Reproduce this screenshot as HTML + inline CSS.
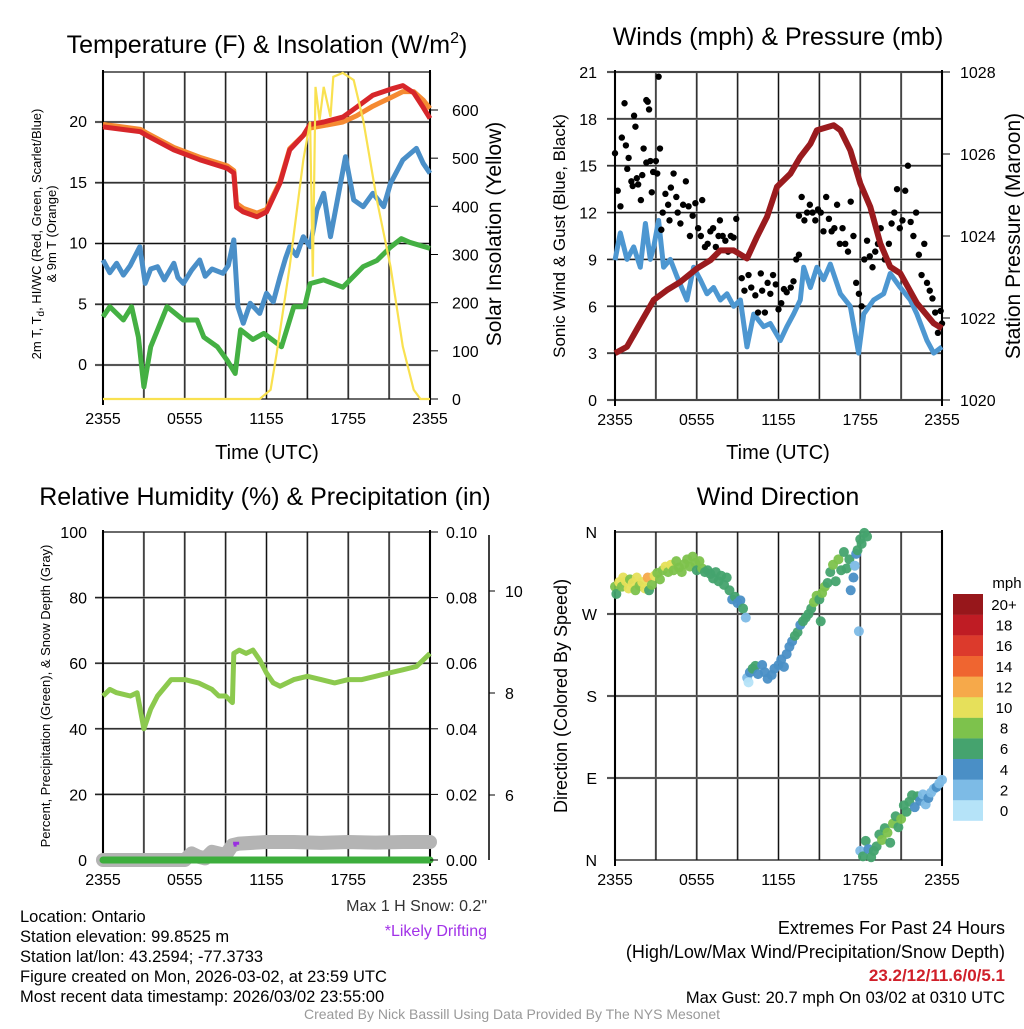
<!DOCTYPE html>
<html><head><meta charset="utf-8"><style>
html,body{margin:0;padding:0;background:#fff;}
svg text{font-family:"Liberation Sans",Arial,sans-serif;}
</style></head><body>
<svg id="chart" width="1024" height="1024" viewBox="0 0 1024 1024" xmlns="http://www.w3.org/2000/svg">
<rect width="1024" height="1024" fill="#fff"/>
</svg>
<script>
// ---------- DATA ----------
const xTickLabels = ["2355","0555","1155","1755","2355"];
// Panel 1
const tempT   = [0,2.74,3.2,5.2,7.1,9.1,9.6,9.8,10.3,11.3,12.0,13.0,13.7,14.7,15.2,16.2,17.6,18.6,19.8,21.1,22.0,22.8,23.5,24];
const tempRed = [19.6,19.2,18.9,17.7,16.9,16.2,15.8,13.0,12.6,12.2,12.6,15.0,17.7,18.9,19.8,20.0,20.4,21.2,22.2,22.7,23.0,22.4,21.2,20.3];
const tempOrange = [19.8,19.4,19.1,17.9,17.1,16.4,16.0,13.3,12.9,12.5,12.8,15.1,17.8,18.9,19.5,19.7,20.0,20.5,21.3,22.0,22.5,22.5,21.8,21.1];
const wcT   = [0,0.5,1.0,1.5,2.0,2.7,3.1,3.5,4.0,4.5,5.2,5.5,5.9,6.5,7.1,7.5,8.0,8.8,9.2,9.6,9.9,10.3,10.8,11.5,12.0,12.5,13.0,13.4,13.7,14.2,14.7,15.2,15.7,16.2,16.7,17.2,17.8,18.4,19.1,19.8,20.6,21.1,22.0,23.0,23.5,24];
const wcBlue = [8.64,7.6,8.37,7.4,8.2,9.74,6.72,7.9,8.09,7.0,8.37,7.2,6.72,7.8,8.64,7.3,7.9,7.55,8.2,10.3,4.8,3.43,5.08,4.25,5.9,5.2,7.27,8.8,9.74,9.0,10.56,9.74,12.76,14.13,10.56,13.58,17.14,13.58,13.03,14.13,13.03,14.95,16.87,17.83,16.6,15.78];
const tdT = [0,0.5,1.5,2.1,2.6,3.0,3.5,4.7,5.9,6.9,7.4,8.4,9.1,9.7,10.1,11.0,11.8,13.1,14.0,14.8,15.2,16.2,17.6,19.1,20.1,21.1,21.9,22.5,24];
const tdGreen = [3.97,4.8,3.7,4.8,2.3,-1.8,1.5,4.8,3.7,3.7,2.3,1.5,0.4,-0.7,2.9,2.1,2.6,1.5,4.8,4.8,6.7,7.0,6.4,8.1,8.6,9.7,10.4,10.1,9.6];
const solT = [0,11.5,12.3,12.75,13.7,14.7,15.2,15.4,15.6,15.9,16.2,16.7,16.9,17.6,18.4,19.1,20.1,21.1,22.0,22.8,23.3,24];
const solW = [0,0,19,95,275,496,576,254,648,579,648,586,669,677,662,579,413,275,109,19,0,0];
const p1LeftTicks = [0,5,10,15,20];
const p1RightTicks = [0,100,200,300,400,500,600];
// Panel 2
const presT = [0,0.88,1.86,2.84,3.82,4.79,6.02,7.0,7.73,8.71,9.69,10.42,11.16,11.89,12.87,13.6,14.34,14.82,16.05,16.54,17.27,18.0,18.74,19.47,20.2,20.94,22.16,23.39,24];
const presMb = [1021.14,1021.30,1021.87,1022.44,1022.68,1022.88,1023.21,1023.41,1023.65,1023.65,1023.45,1023.98,1024.47,1025.20,1025.52,1025.93,1026.25,1026.58,1026.70,1026.58,1026.09,1025.28,1024.71,1023.82,1023.25,1023.09,1022.36,1021.87,1021.75];
const windT = [0,0.39,0.88,1.37,1.86,2.23,2.59,2.84,3.2,3.57,4.06,4.55,5.28,5.77,6.26,6.75,7.24,7.73,8.22,8.71,9.2,9.69,10.18,10.91,11.4,12.13,12.62,13.11,13.6,13.85,14.34,14.82,15.31,15.8,16.54,17.27,17.88,18.25,18.98,19.72,20.2,20.94,21.67,22.16,22.9,23.39,24];
const windMph = [8.95,10.7,9,9.8,8.5,11.3,9,9.8,11.5,8.5,9,7.9,6.4,8.5,7.7,6.8,7.2,6.4,6.8,6,6.4,3.4,5.5,4.7,4.9,3.8,4.7,5.5,6.4,8.5,7.2,8.5,7.7,8.7,6.8,6,3,5.5,6.4,6.8,8.1,7.2,6.4,5.5,3.8,3,3.4];
const gustT = [0,0.2,0.4,0.5,0.7,0.8,0.9,1.0,1.2,1.3,1.4,1.5,1.6,1.7,1.9,2.0,2.1,2.3,2.3,2.4,2.5,2.6,2.7,2.8,3.0,3.1,3.2,3.3,3.4,3.5,3.7,3.9,4.0,4.1,4.3,4.5,4.6,4.8,5.0,5.2,5.4,5.5,5.7,5.9,6.1,6.3,6.4,6.6,6.8,7.0,7.2,7.4,7.6,7.7,7.9,8.1,8.3,8.5,8.7,8.9,9.3,9.5,9.8,10,10.3,10.5,10.7,10.8,11,11.2,11.4,11.6,11.8,12,12.2,12.4,12.6,12.9,13.1,13.3,13.5,13.5,13.7,13.9,14.1,14.3,14.5,14.7,14.9,15.1,15.3,15.5,15.7,15.9,16.1,16.3,16.5,16.7,16.9,17.1,17.3,17.5,17.7,17.9,18.1,18.3,18.5,18.7,18.9,19.1,19.3,19.5,19.8,20.1,20.3,20.5,20.7,20.9,21.1,21.3,21.5,21.7,21.9,22.1,22.3,22.5,22.7,22.9,23.1,23.3,23.5,23.7,23.9,24];
const gustMph = [15.8,13.4,12.4,16.8,19,16.3,14.8,15.5,14,13.7,18.2,17.5,14.2,13.8,12.8,14.4,16.1,15.2,19.2,19.1,18.6,15.3,13.3,14.6,15.3,14.5,20.7,16.1,10.9,12.0,13.2,12.5,11.5,13.6,14.5,13.0,12.0,11.3,12.5,14.0,12.4,10.5,11.8,12.6,11.0,10.5,12.8,9.8,10.0,10.8,11.0,9.8,10.5,11.5,10.5,10.2,9.5,10.5,10.4,11.6,7.8,7.0,8.0,7.2,6.7,5.6,8.1,7.0,5.6,7.5,6.8,8.0,7.4,5.8,6.2,7.1,6.9,7.2,7.6,9.0,9.3,11.8,13.0,11.5,12.0,12.5,12.0,11.5,12.2,12.0,10.8,13.0,11.6,10.8,11.0,12.5,10.0,11.0,10.0,9.5,12.7,10.5,7.5,6.8,6.0,9.0,10.2,9.2,8.5,9.5,10.0,11.0,9.0,10.0,11.3,12.0,13.5,11.0,11.5,13.4,15.0,11.4,10.5,12.0,9.3,8.0,10.0,7.5,7.0,6.5,5.6,4.3,5.7,4.9];
const p2LeftTicks = [0,3,6,9,12,15,18,21];
const p2RightTicks = [1020,1022,1024,1026,1028];
// Panel 3
const rhT = [0,0.5,1,2,2.5,3,3.5,4,5,6,7,8,8.5,9,9.5,9.6,10,10.5,11,11.5,12,12.5,13,14,15,16,17,18,19,20,21,22,23,24];
const rhPct = [50,52,51,50,51,40,46,50,55,55,54,52,50,50,48,63,64,63,64,61,57,54,53,55,56,55,54,55,55,56,57,58,59,63];
const snowT = [0,6,6.5,7,7.5,8,8.5,9,9.5,10,12,14,16,18,20,22,24];
const snowPct = [0,0,2,1,0.5,2.5,2,1.5,4.5,5,5.5,5.5,5.2,5.5,5.3,5.5,5.5];
const precipT = [0,24];
const precipIn = [0,0];
const p3LeftTicks = [0,20,40,60,80,100];
const p3RightTicks = ["0.00","0.02","0.04","0.06","0.08","0.10"];
const snowTicks = [6,8,10];
// Panel 4
const dirT = [0.0,0.1,0.3,0.5,0.6,0.8,1.0,1.1,1.3,1.5,1.6,1.8,2.0,2.2,2.4,2.5,2.7,2.9,3.1,3.3,3.5,3.7,3.9,4.1,4.3,4.5,4.7,4.9,5.1,5.3,5.5,5.7,5.9,6.0,6.2,6.4,6.6,6.8,7.0,7.2,7.4,7.6,7.8,8.0,8.2,8.4,8.6,8.8,9.0,9.2,9.4,9.6,9.7,9.8,9.9,10.1,10.3,10.5,10.8,11.0,11.2,11.5,11.7,12.0,12.2,12.4,12.6,12.8,13.0,13.2,13.4,13.6,13.8,14.0,14.2,14.4,14.6,14.8,15.0,15.1,15.2,15.4,15.6,15.8,16.0,16.2,16.4,16.6,16.8,17.0,17.2,17.3,17.5,17.6,17.7,17.8,17.9,18.0,18.1,18.3,18.5,18.0,18.2,18.4,18.6,18.8,19.0,19.2,19.4,19.6,19.8,20.0,20.2,20.4,20.6,20.8,21.0,21.2,21.4,21.6,21.8,22.0,22.2,22.4,22.6,22.8,23.0,23.2,23.4,23.6,23.8,24.0];
const dirDeg = [300,292,305,300,310,306,298,308,304,296,310,301,305,298,310,296,302,312,315,308,318,322,316,324,318,328,321,316,325,330,322,333,326,318,328,320,316,318,314,309,316,306,312,302,310,296,286,289,282,285,276,266,200,195,206,210,213,204,214,206,199,203,210,214,220,212,226,234,240,246,250,258,262,266,270,276,283,290,286,262,293,300,304,316,324,306,330,318,338,320,330,296,310,323,336,340,251,352,347,359,355,10,4,21,12,3,10,15,28,22,35,30,19,40,48,36,45,60,53,64,71,58,70,65,72,61,68,74,78,80,84,88];
const dirSpd = [9,7,10,9,10,10,10,9,10,9,10,9,10,10,12,7,9,10,9,8,9,10,9,10,8,9,8,8,9,8,8,9,9,6,8,8,7,7,6,7,7,6,7,6,7,6,5,7,5,5,6,2,2,1,5,6,6,5,5,5,4,5,5,5,5,4,4,5,5,6,6,5,6,6,7,7,8,8,7,6,8,8,6,6,8,7,8,7,7,6,6,5,4,3,5,6,2,6,6,6,6,2,6,6,4,6,6,6,6,8,6,8,6,8,6,6,8,6,6,6,6,4,6,4,3,2,4,3,3,4,3,2];
const dirTicks = ["N","E","S","W","N"];
const legendLabels = ["0","2","4","6","8","10","12","14","16","18","20+"];
const legendColors = ["#b5e3f8","#7dbbe6","#4a8fc6","#45a36e","#7dc24c","#e6e05a","#f6a94a","#ef6530","#dc3a2c","#bf1c24","#97171b"];

// ---------- DRAWING ----------
const svg = document.getElementById('chart');
const NS = "http://www.w3.org/2000/svg";
const TICK = 16;
function mk(tag, attrs, parent){
  const e = document.createElementNS(NS, tag);
  for (const k in attrs) e.setAttribute(k, attrs[k]);
  (parent||svg).appendChild(e);
  return e;
}
function txt(s, x, y, size, anchor, parent, extra){
  const e = mk('text', Object.assign({x:x, y:y, 'font-size':size, 'text-anchor':anchor||'middle', fill:'#000'}, extra||{}), parent);
  e.textContent = s;
  return e;
}
function scale(d0,d1,r0,r1){ return v => r0 + (v-d0)*(r1-r0)/(d1-d0); }
function pathD(xs, ys, fx, fy){
  return xs.map((t,i)=>(i?'L':'M')+fx(t).toFixed(1)+','+fy(ys[i]).toFixed(1)).join('');
}
function frame(name, L, T, R, B, hVals, fy){
  const g = mk('g', {});
  
  
  for (let i=0;i<=8;i++){
    const x = L + (R-L)*i/8;
    mk('line', {x1:x, y1:T, x2:x, y2:B, stroke:'#999', 'stroke-width':2.2}, g);
    mk('line', {x1:x, y1:T, x2:x, y2:B, stroke:'#111', 'stroke-width':1}, g);
  }
  hVals.forEach(v=>{
    const y = fy(v);
    mk('line', {x1:L-8, y1:y, x2:R, y2:y, stroke:'#999', 'stroke-width':2.2}, g);
    mk('line', {x1:L-8, y1:y, x2:R, y2:y, stroke:'#111', 'stroke-width':1}, g);
  });
  mk('line', {x1:L, y1:T, x2:R, y2:T, stroke:'#111', 'stroke-width':1.2}, g);
  mk('line', {x1:L, y1:B, x2:R, y2:B, stroke:'#111', 'stroke-width':1.2}, g);
  mk('line', {x1:L, y1:T-2, x2:L, y2:B+6, stroke:'#000', 'stroke-width':2}, g);
  mk('line', {x1:R, y1:T-2, x2:R, y2:B+6, stroke:'#000', 'stroke-width':2}, g);
  const xt = mk('g', {});
  
  
  xTickLabels.forEach((s,i)=>{ txt(s, L+(R-L)*i/4, B+25, TICK, 'middle', xt); });
}

// Panel 1
(function(){
  const L=103,R=430,T=72,B=399;
  const fx = scale(0,24,L,R), fy = scale(0,20,365,122), fs = scale(0,600,399,110);
  frame('temp-panel', L,T,R,B, p1LeftTicks, fy);
  const g = mk('g', {});  
  let e;
  e = mk('path', {d:pathD(tempT,tempOrange,fx,fy), fill:'none', stroke:'#f58a32', 'stroke-width':5, 'stroke-linejoin':'round'}, g);
  
  e = mk('path', {d:pathD(tempT,tempRed,fx,fy), fill:'none', stroke:'#d7262a', 'stroke-width':5, 'stroke-linejoin':'round'}, g);
  
  e = mk('path', {d:pathD(wcT,wcBlue,fx,fy), fill:'none', stroke:'#4a8fc8', 'stroke-width':5, 'stroke-linejoin':'round'}, g);
  
  e = mk('path', {d:pathD(tdT,tdGreen,fx,fy), fill:'none', stroke:'#44b043', 'stroke-width':5, 'stroke-linejoin':'round'}, g);
  
  e = mk('path', {d:pathD(solT,solW,fx,fs), fill:'none', stroke:'#f9e150', 'stroke-width':2.2}, g);
  
  const yl = mk('g', {});  
  p1LeftTicks.forEach(v=>txt(String(v), L-16, fy(v)+5, TICK, 'end', yl));
  const yr = mk('g', {});  
  p1RightTicks.forEach(v=>{ mk('line',{x1:R,y1:fs(v),x2:R+8,y2:fs(v),stroke:'#000'},yr); txt(String(v), R+22, fs(v)+6, TICK, 'start', yr); });
  let t = txt('', 267, 53, 25, 'middle'); 
  t.innerHTML = 'Temperature (F) &amp; Insolation (W/m<tspan font-size="16" dy="-10">2</tspan><tspan dy="10">)</tspan>';
  t = txt('Time (UTC)', 267, 459, 20); 
  t = txt('', 0,0,13,'middle',null,{transform:'translate(41,234) rotate(-90)'}); 
  t.innerHTML = '2m T, T<tspan font-size="10" dy="3">d</tspan><tspan dy="-3">, HI/WC (Red, Green, Scarlet/Blue)</tspan>';
  t = txt('& 9m T (Orange)', 0,0,13,'middle',null,{transform:'translate(56,234) rotate(-90)'}); 
  t = txt('Solar Insolation (Yellow)', 0,0,21,'middle',null,{transform:'translate(501,234) rotate(-90)'}); 
})();

// Panel 2
(function(){
  const L=615,R=942,T=72,B=400;
  const fx = scale(0,24,L,R), fy = scale(0,21,B,T), fp = scale(1020,1028,B,T);
  frame('wind-panel', L,T,R,B, p2LeftTicks, fy);
  const g = mk('g', {});  
  let e = mk('path', {d:pathD(windT,windMph,fx,fy), fill:'none', stroke:'#4d97d1', 'stroke-width':5, 'stroke-linejoin':'round'}, g);
  
  const gg = mk('g', {}, g);  
  gustT.forEach((t,i)=>{ mk('circle',{cx:fx(t), cy:fy(gustMph[i]), r:3.2, fill:'#000'}, gg); });
  e = mk('path', {d:pathD(presT,presMb,fx,fp), fill:'none', stroke:'#9a1b1e', 'stroke-width':6, 'stroke-linejoin':'round'}, g);
  
  const yl = mk('g', {});  
  p2LeftTicks.forEach(v=>txt(String(v), L-18, fy(v)+6, TICK, 'end', yl));
  const yr = mk('g', {});  
  p2RightTicks.forEach(v=>{ mk('line',{x1:R,y1:fp(v),x2:R+8,y2:fp(v),stroke:'#000'},yr); txt(String(v), R+18, fp(v)+6, TICK, 'start', yr); });
  let t = txt('Winds (mph) & Pressure (mb)', 778, 45, 25); 
  t = txt('Time (UTC)', 778, 459, 20); 
  t = txt('Sonic Wind & Gust (Blue, Black)', 0,0,17,'middle',null,{transform:'translate(565,236) rotate(-90)'}); 
  t = txt('Station Pressure (Maroon)', 0,0,21,'middle',null,{transform:'translate(1020,236) rotate(-90)'}); 
})();

// Panel 3
(function(){
  const L=103,R=430,T=532,B=860;
  const fx = scale(0,24,L,R), fy = scale(0,100,B,T), fsn = scale(6,10,795,591);
  frame('rh-panel', L,T,R,B, [20,40,60,80], fy);
  const g = mk('g', {});  
  let e = mk('path', {d:pathD(snowT,snowPct,fx,fy), fill:'none', stroke:'#b4b4b4', 'stroke-width':14, 'stroke-linejoin':'round','stroke-linecap':'round'}, g);
  
  e = mk('path', {d:pathD(precipT,precipIn,fx,v=>fy(v*1000)), fill:'none', stroke:'#3dae3d', 'stroke-width':7, 'stroke-linecap':'round'}, g);
  
  e = mk('path', {d:pathD(rhT,rhPct,fx,fy), fill:'none', stroke:'#8cc94e', 'stroke-width':5, 'stroke-linejoin':'round'}, g);
  
  e = mk('path', {d:'M'+(fx(9.55))+','+(fy(5.1))+'h6 M'+(fx(9.7))+','+fy(5)+'v3', fill:'none', stroke:'#9a30e0', 'stroke-width':3}, g);
  
  const yl = mk('g', {});  
  p3LeftTicks.forEach(v=>txt(String(v), L-16, fy(v)+6, TICK, 'end', yl));
  const yr = mk('g', {});  
  p3RightTicks.forEach((s,i)=>{ const y=fy(i*20); mk('line',{x1:R,y1:y,x2:R+8,y2:y,stroke:'#000'},yr); txt(s, R+16, y+6, TICK, 'start', yr); });
  const ys = mk('g', {});  
  mk('line',{x1:489,y1:T+3,x2:489,y2:B,stroke:'#000','stroke-width':1.5},ys);
  snowTicks.forEach(v=>{ mk('line',{x1:489,y1:fsn(v),x2:495,y2:fsn(v),stroke:'#000'},ys); txt(String(v), 505, fsn(v)+6, TICK, 'start', ys); });
  let t = txt('Relative Humidity (%) & Precipitation (in)', 265, 505, 25); 
  t = txt('Percent, Precipitation (Green), & Snow Depth (Gray)', 0,0,13,'middle',null,{transform:'translate(50,696) rotate(-90)'}); 
  t = txt('Max 1 H Snow: 0.2"', 487, 911, 16, 'end');  t.setAttribute('fill','#333');
  t = txt('*Likely Drifting', 487, 936, 16, 'end');  t.setAttribute('fill','#a232e8');
})();

// Panel 4
(function(){
  const L=615,R=942,T=532,B=860;
  const fx = scale(0,24,L,R), fy = scale(0,360,B,T);
  frame('dir-panel', L,T,R,B, [90,180,270], fy);
  const g = mk('g', {});  
  dirT.forEach((t,i)=>{
    const c = legendColors[Math.min(10, Math.floor(dirSpd[i]/2))];
    mk('circle',{cx:fx(t), cy:fy(dirDeg[i]), r:5, fill:c, 'fill-opacity':0.95}, g);
  });
  const yl = mk('g', {});  
  dirTicks.forEach((s,i)=>txt(s, L-18, fy(i*90)+6, TICK, 'end', yl));
  const lg = mk('g', {});  
  txt('mph', 1007, 588, 15, 'middle', lg);
  for (let i=0;i<11;i++){
    const y = 594 + (10-i)*20.6;
    mk('rect',{x:953,y:y,width:30,height:20.8,fill:legendColors[i]},lg);
    txt(legendLabels[i], 1004, y+16, 15, 'middle', lg);
  }
  let t = txt('Wind Direction', 778, 505, 25); 
  t = txt('Direction (Colored By Speed)', 0,0,18,'middle',null,{transform:'translate(567,696) rotate(-90)'}); 
})();

// Footer text
(function(){
  const g = mk('g', {});  
  ["Location: Ontario","Station elevation: 99.8525 m","Station lat/lon: 43.2594; -77.3733","Figure created on Mon, 2026-03-02, at 23:59 UTC","Most recent data timestamp: 2026/03/02 23:55:00"].forEach((s,i)=>txt(s, 20, 922+i*20, 16.5, 'start', g));
  const h = mk('g', {});  
  txt('Extremes For Past 24 Hours', 1005, 934, 18, 'end', h);
  txt('(High/Low/Max Wind/Precipitation/Snow Depth)', 1005, 958, 18, 'end', h);
  txt('23.2/12/11.6/0/5.1', 1005, 981, 17, 'end', h, {fill:'#d0202a','font-weight':'bold'});
  txt('Max Gust: 20.7 mph On 03/02 at 0310 UTC', 1005, 1003, 16.5, 'end', h);
  const c = txt('Created By Nick Bassill Using Data Provided By The NYS Mesonet', 512, 1019, 14, 'middle');
   c.setAttribute('fill','#999');
})();
</script>
</body></html>
